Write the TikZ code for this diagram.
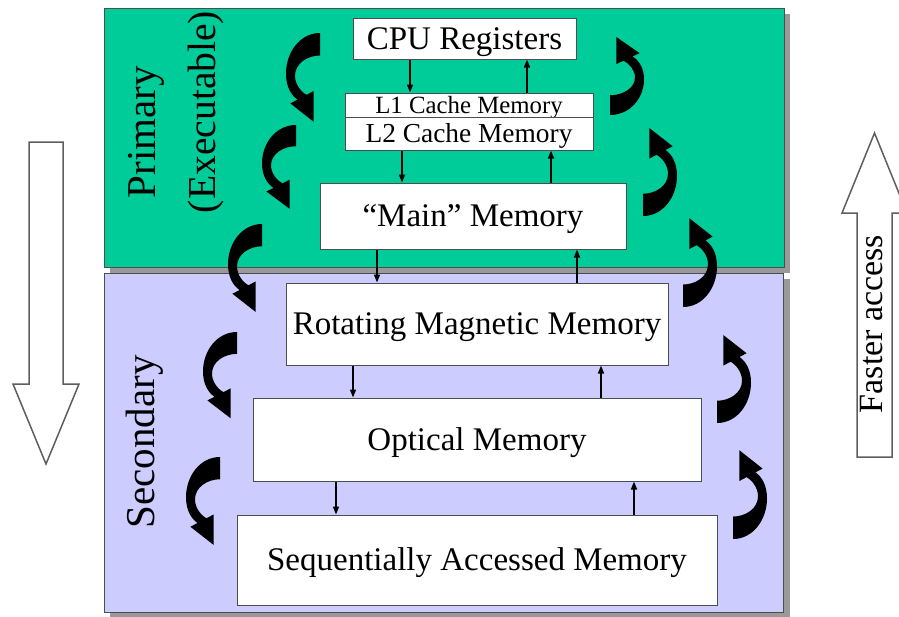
\documentclass[tikz,border=0pt]{standalone}
\usepackage{fontspec}
\setmainfont{Liberation Serif}
\usetikzlibrary{arrows.meta}
\definecolor{prigreen}{HTML}{00CC99}
\definecolor{secpurple}{HTML}{CCCCFF}
\definecolor{edgegray}{HTML}{4D4D4D}
\definecolor{shadowgray}{HTML}{999999}
\definecolor{outlinegray}{HTML}{5E5E5E}
\tikzset{
  membox/.style={draw=edgegray, line width=0.5pt, fill=white, inner sep=0pt, align=center,
    text height=10.9pt, text depth=0pt, font=\fontsize{16.5}{19}\selectfont},
  sarrow/.style={line width=0.75pt, -{Triangle[length=4pt,width=3pt]}},
  sidelabel/.style={rotate=90, inner sep=0pt, font=\fontsize{20.5}{25}\selectfont},
  panelshadow/.style={fill=shadowgray},
  bigarrow/.style={draw=outlinegray, line width=0.75pt, fill=white, line join=miter},
  curl/.pic={\fill[black] (0,0) -- (0,21) .. controls (-12,21) and (-25,28) .. (-25,40)
      .. controls (-25,48) and (-19,55) .. (-13.5,57.8) -- (-6.4,54.2) -- (-6.3,83)
      -- (-29.6,65.8) -- (-22.5,62.3) .. controls (-29,58) and (-34,50) .. (-34,38)
      .. controls (-34,18) and (-20,0) .. (0,0) -- cycle;}
}
\begin{document}
\begin{tikzpicture}[x=0.5pt, y=-0.5pt]
\useasboundingbox (0,0) rectangle (899,616);
% panels
\fill[panelshadow] (110,279) rectangle (790,618);
\fill[secpurple, draw=edgegray, line width=0.5pt] (104,273) rectangle (783,612);
\fill[panelshadow] (110,14) rectangle (790,273);
\fill[prigreen, draw=edgegray, line width=0.5pt] (104,8) rectangle (784,267);

% big outline arrows
\draw[bigarrow] (29,142) -- (63,142) -- (63,384) -- (79,384) -- (46,464) -- (13,384) -- (29,384) -- cycle;
\draw[bigarrow] (857,457) -- (892,457) -- (892,213) -- (907,213) -- (874.5,133) -- (842,213) -- (857,213) -- cycle;
\node[rotate=90, inner sep=0pt, font=\fontsize{17}{20}\selectfont] (faster) at (872,324) {Faster access};

% side labels
\node[sidelabel] (primary) at (146,132) {Primary};
\node[sidelabel, font=\fontsize{19.8}{24}\selectfont] (exec) at (206,112) {(Executable)};
\node[sidelabel] (secondary) at (145,442) {Secondary};

% memory boxes
\node[membox, minimum width=111.5pt, minimum height=20.5pt] (cpu) at (464.5,38.5) {CPU Registers};
\node[membox, minimum width=124pt, minimum height=12pt, text height=8.2pt, font=\fontsize{12.4}{14}\selectfont] (l1) at (469,105) {L1 Cache Memory};
\node[membox, minimum width=124pt, minimum height=16.5pt, text height=9pt, font=\fontsize{13.7}{16}\selectfont] (l2) at (469,133.5) {L2 Cache Memory};
\node[membox, minimum width=153pt, minimum height=33pt] (main) at (473,216) {``Main'' Memory};
\node[membox, minimum width=191pt, minimum height=41pt] (rot) at (477,324) {Rotating Magnetic Memory};
\node[membox, minimum width=224pt, minimum height=41.5pt] (opt) at (477,439.5) {Optical Memory};
\node[membox, minimum width=240pt, minimum height=45pt] (seq) at (477,560) {Sequentially Accessed Memory};

% x positions of small connectors
\coordinate (d1) at (410,0); \coordinate (u1) at (527,0);
\coordinate (d2) at (402,0); \coordinate (u2) at (551,0);
\coordinate (d3) at (377,0); \coordinate (u3) at (577,0);
\coordinate (d4) at (353,0); \coordinate (u4) at (601,0);
\coordinate (d5) at (336,0); \coordinate (u5) at (634,0);

\draw[sarrow] (cpu.south -| d1) -- (l1.north -| d1);
\draw[sarrow] (l1.north -| u1) -- (cpu.south -| u1);
\draw[sarrow] (l2.south -| d2) -- (main.north -| d2);
\draw[sarrow] (main.north -| u2) -- (l2.south -| u2);
\draw[sarrow] (main.south -| d3) -- (rot.north -| d3);
\draw[sarrow] (rot.north -| u3) -- (main.south -| u3);
\draw[sarrow] (rot.south -| d4) -- (opt.north -| d4);
\draw[sarrow] (opt.north -| u4) -- (rot.south -| u4);
\draw[sarrow] (opt.south -| d5) -- (seq.north -| d5);
\draw[sarrow] (seq.north -| u5) -- (opt.south -| u5);

% curled arrows, left side (downward)
\pic[yscale=1.07] at (320,33) {curl};
\pic[yscale=1.01] at (296,125) {curl};
\pic[yscale=1.06] at (262,224) {curl};
\pic[yscale=1.04] at (237,332) {curl};
\pic[yscale=1.06] at (220,457) {curl};
% curled arrows, right side (upward)
\pic[rotate=180, yscale=0.94] at (610,115) {curl};
\pic[rotate=180, yscale=1.06] at (643,216) {curl};
\pic[rotate=180, yscale=1.07] at (683,307) {curl};
\pic[rotate=180, yscale=1.06] at (717,423) {curl};
\pic[rotate=180, yscale=1.07] at (733,539) {curl};
\end{tikzpicture}
\end{document}
